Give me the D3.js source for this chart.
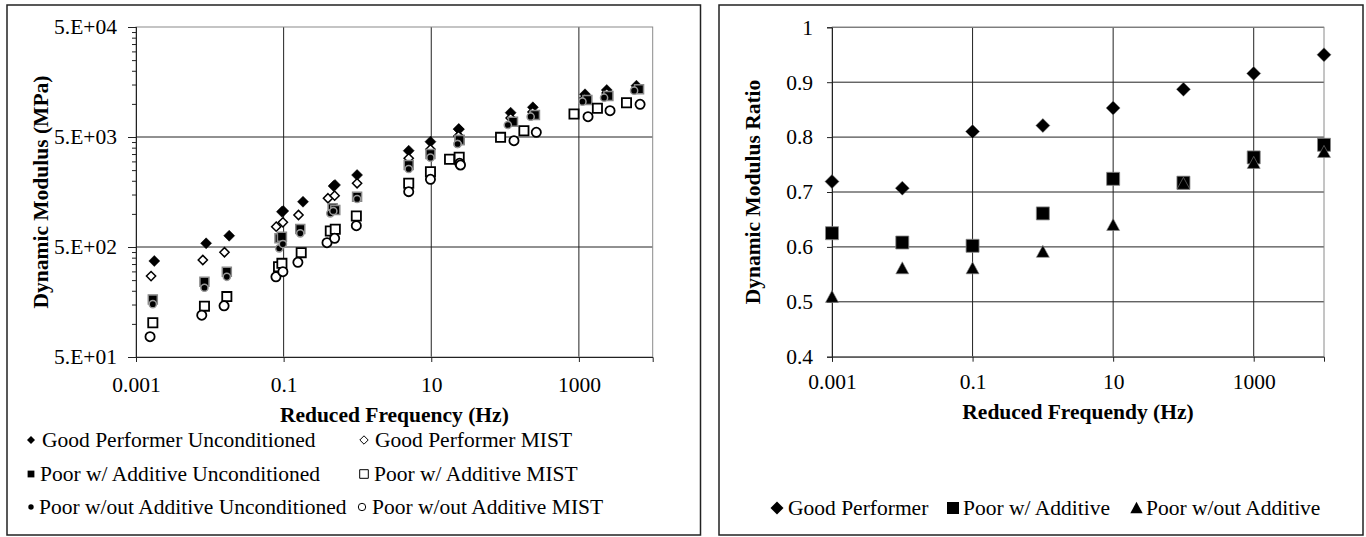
<!DOCTYPE html>
<html><head><meta charset="utf-8">
<script src="https://cdn.jsdelivr.net/npm/d3@7"></script>
<style>
body{margin:0;background:#fff;}
svg{display:block;}
text{font-family:"Liberation Serif","Times New Roman",Tinos,Times,"DejaVu Serif",serif;fill:#000;}
</style>
</head><body>
<svg id="c" width="1366" height="537"></svg>
<script>
// ---------- Left chart data: reduced frequency (Hz) and dynamic modulus (MPa) ----------
const gpUncFreq  = [0.00177,0.00891,0.0183,0.0948,0.183,0.475, 0.0989,0.497,0.989,4.95,9.75,23.6, 23.6,119,238,1211,2384,6026];
const gpUncMod   = [373,540,633,1047,1290,1792, 1062,1831,2256,3752,4532,5875, 5913,8316,9311,12227,13371,14630];
const gpMistFreq = [0.0016,0.00804,0.0158,0.0794,0.159,0.399, 0.0977,0.491,0.989,4.95,9.75,24.2, 23.4,119,236,1199,2384,6085];
const gpMistMod  = [272,381,448,765,977,1387, 838,1464,1897,3202,3865,5000, 5105,7444,8440,11310,12560,13935];
const pwaUncFreq = [0.00169,0.00846,0.0170,0.0879,0.168,0.461, 0.0948,0.501,0.989,4.95,9.75,24.2, 24.2,128,254,1303,2512,6531];
const pwaUncMod  = [167,242,298,600,729,1124, 620,1085,1433,2782,3502,4695, 4695,6886,7924,10847,11800,13575];
const pwaMistFreq= [0.00169,0.00846,0.0170,0.0853,0.173,0.429, 0.0948,0.501,0.966,4.95,9.75,23.9, 17.7,86.9,180,859,1782,4416];
const pwaMistMod = [102.5,145,177,331,444,699, 355,724,956,1897,2418,3268, 3134,4966,5700,8090,9120,10256];
const pwoUncFreq = [0.00169,0.00846,0.0170,0.0871,0.168,0.429, 0.0977,0.471,0.989,4.95,9.75,22.7, 22.7,109,222,1117,2193,5597];
const pwoUncMod  = [151,213,268,486,666,1012, 532,1062,1365,2558,3244,4320, 4320,6426,7644,10470,11380,13180];
const pwoMistFreq= [0.00155,0.00778,0.0156,0.0787,0.156,0.387, 0.0977,0.491,0.966,4.95,9.75,24.2, 24.9,132,265,1330,2642,6745];
const pwoMistMod = [76.5,120,146,268,363,547, 298,600,781,1592,2063,2884, 2782,4626,5516,7644,8670,9916];
const leftSeriesNames = ["Good Performer Unconditioned","Good Performer MIST","Poor w/ Additive Unconditioned","Poor w/ Additive MIST","Poor w/out Additive Unconditioned","Poor w/out Additive MIST"];
const leftYTicks = [50,500,5000,50000];
const leftYTickLabels = ["5.E+01","5.E+02","5.E+03","5.E+04"];
const leftXTicks = [0.001,0.1,10,1000];
const leftXTickLabels = ["0.001","0.1","10","1000"];

// ---------- Right chart data: dynamic modulus ratio ----------
const ratioFreq = [0.001,0.01,0.1,1,10,100,1000,10000];
const ratioGood = [0.719,0.707,0.810,0.821,0.853,0.887,0.916,0.950];
const ratioPoorWith = [0.625,0.608,0.602,0.661,0.724,0.717,0.763,0.786];
const ratioPoorWithout = [0.509,0.561,0.561,0.591,0.640,0.715,0.753,0.773];
const rightSeriesNames = ["Good Performer","Poor w/ Additive","Poor w/out Additive"];
const rightYTicks = [0.4,0.5,0.6,0.7,0.8,0.9,1];
const rightYTickLabels = ["0.4","0.5","0.6","0.7","0.8","0.9","1"];
const rightXTicks = [0.001,0.1,10,1000];
const rightXTickLabels = ["0.001","0.1","10","1000"];

// ---------- marker shapes ----------
const mk = {
  diamond: r => `M0,${-r}L${r},0L0,${r}L${-r},0Z`,
  square: h => `M${-h},${-h}H${h}V${h}H${-h}Z`,
  circle: r => `M${-r},0A${r},${r} 0 1,0 ${r},0A${r},${r} 0 1,0 ${-r},0Z`,
  triangle: h => `M0,${-h}L${h},${h*0.85}L${-h},${h*0.85}Z`
};
function drawMarker(g, x, y, st){
  g.append("path").attr("transform",`translate(${x},${y})`)
   .attr("d", mk[st.shape](st.size))
   .attr("fill", st.fill).attr("stroke", st.stroke||"none").attr("stroke-width", st.sw||0);
}

const svg = d3.select("#c");
const FS = 21.5;

// ---------- chart frames ----------
svg.append("rect").attr("x",7).attr("y",5).attr("width",693.5).attr("height",530)
   .attr("fill","#fff").attr("stroke","#222").attr("stroke-width",1.5);
svg.append("rect").attr("x",719).attr("y",5).attr("width",644).attr("height",530)
   .attr("fill","#fff").attr("stroke","#222").attr("stroke-width",1.5);

function styleAxis(a){
  a.attr("font-family",null).attr("font-size",null);
  a.select(".domain").attr("stroke","#222");
  a.selectAll(".tick line").attr("stroke","#222");
  a.selectAll("text").attr("font-size",FS);
}

// ================= LEFT CHART =================
const xL = d3.scaleLog().domain([0.001,10000]).range([136,652.7]);
const yL = d3.scaleLog().domain([50,50000]).range([357,27]);
const L = svg.append("g");
L.append("g").selectAll("line").data([500,5000]).join("line")
 .attr("x1",xL.range()[0]).attr("x2",xL.range()[1]).attr("y1",d=>yL(d)).attr("y2",d=>yL(d))
 .attr("stroke","#222").attr("stroke-width",1);
L.append("g").selectAll("line").data([0.1,10,1000]).join("line")
 .attr("y1",yL.range()[0]).attr("y2",yL.range()[1]).attr("x1",d=>xL(d)).attr("x2",d=>xL(d))
 .attr("stroke","#222").attr("stroke-width",1);
L.append("rect").attr("x",xL.range()[0]).attr("y",yL.range()[1])
 .attr("width",xL.range()[1]-xL.range()[0]).attr("height",yL.range()[0]-yL.range()[1])
 .attr("fill","none").attr("stroke","#8a8a8a").attr("stroke-width",1);
const leftMinor = [];
leftYTicks.slice(0,-1).forEach(b=>{ for(let m=2;m<=9;m++) leftMinor.push(b*m); });
const yMinorAx = L.append("g").attr("transform",`translate(${xL.range()[0]},0)`)
 .call(d3.axisLeft(yL).tickValues(leftMinor).tickSize(4).tickFormat(""));
const yAxL = L.append("g").attr("transform",`translate(${xL.range()[0]},0)`)
 .call(d3.axisLeft(yL).tickValues(leftYTicks).tickSize(8).tickPadding(11)
   .tickFormat((d,i)=>leftYTickLabels[i]));
const xAxL = L.append("g").attr("transform",`translate(0,${yL.range()[0]})`)
 .call(d3.axisBottom(xL).tickValues(leftXTicks).tickSize(5).tickPadding(15)
   .tickFormat((d,i)=>leftXTickLabels[i]));
[yMinorAx,yAxL,xAxL].forEach(styleAxis);
L.append("text").attr("x",(xL.range()[0]+xL.range()[1])/2).attr("y",421.5)
 .attr("text-anchor","middle").attr("font-weight","bold").attr("font-size",FS)
 .text("Reduced Frequency (Hz)");
L.append("text").attr("transform",`translate(41,${(yL.range()[0]+yL.range()[1])/2}) rotate(-90)`)
 .attr("text-anchor","middle").attr("dominant-baseline","central")
 .attr("font-weight","bold").attr("font-size",FS).text("Dynamic Modulus (MPa)");

const leftStyles = [
  {shape:"diamond",size:5.5,fill:"#000",stroke:"#000",sw:0.5},
  {shape:"diamond",size:4.6,fill:"#fff",stroke:"#000",sw:1.5},
  {shape:"square",size:4.5,fill:"#000",stroke:"#888",sw:1.5},
  {shape:"square",size:4.6,fill:"#fff",stroke:"#000",sw:1.8},
  {shape:"circle",size:3.6,fill:"#000",stroke:"#999",sw:1.5},
  {shape:"circle",size:4.6,fill:"#fff",stroke:"#000",sw:1.8}
];
const leftData = [
  [gpUncFreq,gpUncMod],[gpMistFreq,gpMistMod],[pwaUncFreq,pwaUncMod],
  [pwaMistFreq,pwaMistMod],[pwoUncFreq,pwoUncMod],[pwoMistFreq,pwoMistMod]
];
const ptsL = L.append("g");
leftData.forEach((s,i)=>{
  const g = ptsL.append("g");
  s[0].forEach((f,j)=> drawMarker(g, xL(f), yL(s[1][j]), leftStyles[i]));
});
const legL = L.append("g");
const legLPos = [[31,42,440,447],[364,375,440,447],[31,40,474,481],[364,374,474,481],[31,39,507,514],[362,372,507,514]];
const legLStyles = [
  {shape:"diamond",size:4,fill:"#000"},
  {shape:"diamond",size:4.2,fill:"#fff",stroke:"#000",sw:1},
  {shape:"square",size:3.4,fill:"#000"},
  {shape:"square",size:4.3,fill:"#fff",stroke:"#000",sw:1},
  {shape:"circle",size:2.7,fill:"#000"},
  {shape:"circle",size:3.7,fill:"#fff",stroke:"#000",sw:1}
];
leftSeriesNames.forEach((n,i)=>{
  const p = legLPos[i];
  drawMarker(legL,p[0],p[2],legLStyles[i]);
  legL.append("text").attr("x",p[1]).attr("y",p[3]).attr("font-size",FS).text(n);
});

// ================= RIGHT CHART =================
const xR = d3.scaleLog().domain([0.001,10000]).range([832,1324]);
const yR = d3.scaleLinear().domain([0.4,1]).range([356.7,27.3]);
const R = svg.append("g");
R.append("g").selectAll("line").data(rightYTicks.slice(1)).join("line")
 .attr("x1",xR.range()[0]).attr("x2",xR.range()[1]).attr("y1",d=>yR(d)).attr("y2",d=>yR(d))
 .attr("stroke","#222").attr("stroke-width",1);
R.append("g").selectAll("line").data([0.1,10,1000]).join("line")
 .attr("y1",yR.range()[0]).attr("y2",yR.range()[1]).attr("x1",d=>xR(d)).attr("x2",d=>xR(d))
 .attr("stroke","#222").attr("stroke-width",1);
R.append("rect").attr("x",xR.range()[0]).attr("y",yR.range()[1])
 .attr("width",xR.range()[1]-xR.range()[0]).attr("height",yR.range()[0]-yR.range()[1])
 .attr("fill","none").attr("stroke","#8a8a8a").attr("stroke-width",1);
const yAxR = R.append("g").attr("transform",`translate(${xR.range()[0]},0)`)
 .call(d3.axisLeft(yR).tickValues(rightYTicks).tickSize(5).tickPadding(14)
   .tickFormat((d,i)=>rightYTickLabels[i]));
const xAxR = R.append("g").attr("transform",`translate(0,${yR.range()[0]})`)
 .call(d3.axisBottom(xR).tickValues(rightXTicks).tickSize(5).tickPadding(12.5)
   .tickFormat((d,i)=>rightXTickLabels[i]));
[yAxR,xAxR].forEach(styleAxis);
R.append("text").attr("x",(xR.range()[0]+xR.range()[1])/2).attr("y",418.5)
 .attr("text-anchor","middle").attr("font-weight","bold").attr("font-size",FS)
 .text("Reduced Frequendy (Hz)");
R.append("text").attr("transform",`translate(752.5,${(yR.range()[0]+yR.range()[1])/2}) rotate(-90)`)
 .attr("text-anchor","middle").attr("dominant-baseline","central")
 .attr("font-weight","bold").attr("font-size",FS).text("Dynamic Modulus Ratio");

const rightStyles = [
  {shape:"diamond",size:7,fill:"#000",stroke:"#777",sw:0.5},
  {shape:"square",size:6.5,fill:"#000",stroke:"#888",sw:0.8},
  {shape:"triangle",size:6.5,fill:"#000",stroke:"#888",sw:0.6}
];
const rightData = [ratioGood,ratioPoorWith,ratioPoorWithout];
const ptsR = R.append("g");
rightData.forEach((s,i)=>{
  const g = ptsR.append("g");
  s.forEach((v,j)=> drawMarker(g, xR(ratioFreq[j]), yR(v), rightStyles[i]));
});
const legR = R.append("g");
const legRPos = [[777,788],[953,963],[1136.5,1146]];
const legRStyles = [
  {shape:"diamond",size:6.5,fill:"#000"},
  {shape:"square",size:6,fill:"#000"},
  {shape:"triangle",size:6.2,fill:"#000"}
];
rightSeriesNames.forEach((n,i)=>{
  drawMarker(legR, legRPos[i][0], 508, legRStyles[i]);
  legR.append("text").attr("x",legRPos[i][1]).attr("y",515).attr("font-size",FS).text(n);
});
</script>
</body></html>
